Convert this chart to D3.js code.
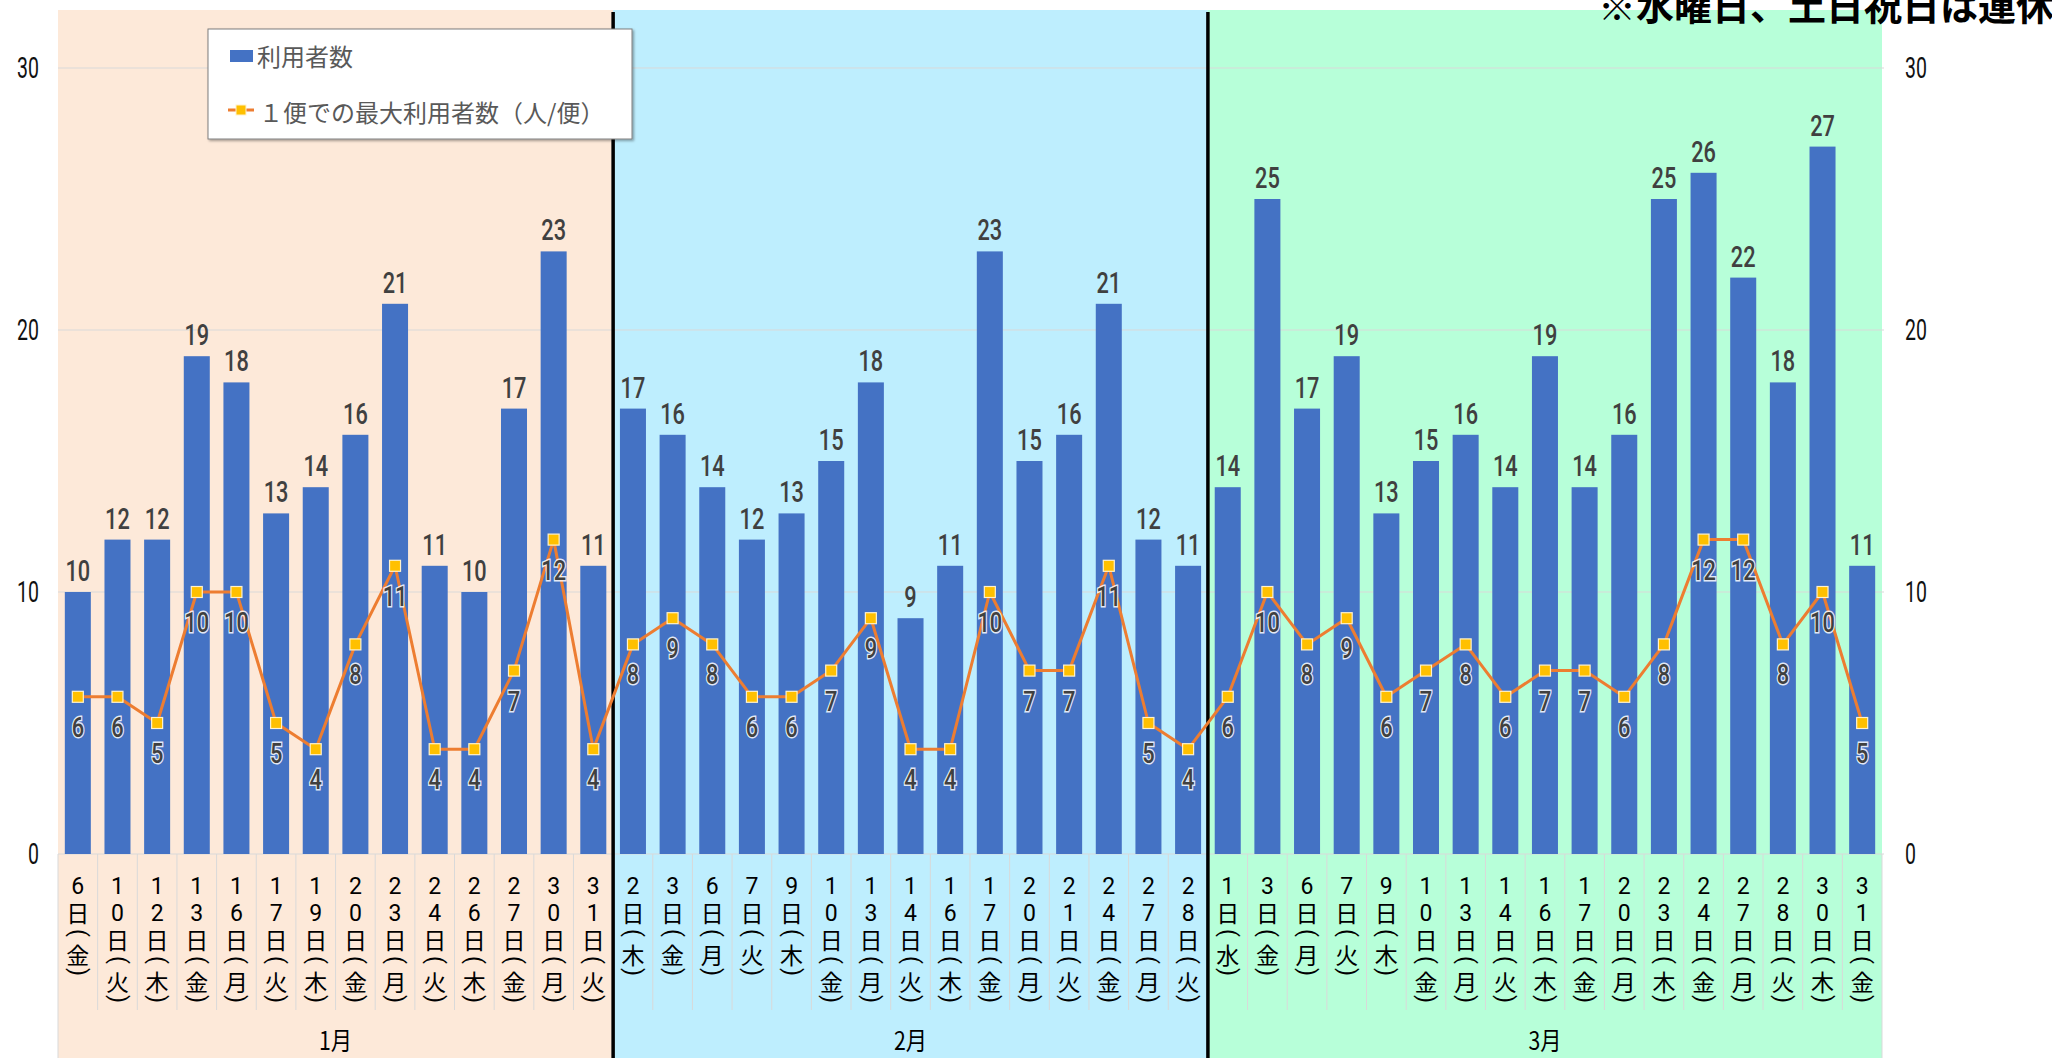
<!DOCTYPE html>
<html><head><meta charset="utf-8">
<script src="https://cdn.jsdelivr.net/npm/d3@7"></script>
<style>body{margin:0;background:#fff;} svg{display:block;}</style>
</head><body>
<svg id="chart" width="2052" height="1058"></svg>
<script>
const monthLabels = ["1月","2月","3月"];
const janDates = ["6日(金)","10日(火)","12日(木)","13日(金)","16日(月)","17日(火)","19日(木)","20日(金)","23日(月)","24日(火)","26日(木)","27日(金)","30日(月)","31日(火)"];
const febDates = ["2日(木)","3日(金)","6日(月)","7日(火)","9日(木)","10日(金)","13日(月)","14日(火)","16日(木)","17日(金)","20日(月)","21日(火)","24日(金)","27日(月)","28日(火)"];
const marDates = ["1日(水)","3日(金)","6日(月)","7日(火)","9日(木)","10日(金)","13日(月)","14日(火)","16日(木)","17日(金)","20日(月)","23日(木)","24日(金)","27日(月)","28日(火)","30日(木)","31日(金)"];
const janUsers = [10,12,12,19,18,13,14,16,21,11,10,17,23,11];
const febUsers = [17,16,14,12,13,15,18,9,11,23,15,16,21,12,11];
const marUsers = [14,25,17,19,13,15,16,14,19,14,16,25,26,22,18,27,11];
const janMaxPerTrip = [6,6,5,10,10,5,4,8,11,4,4,7,12,4];
const febMaxPerTrip = [8,9,8,6,6,7,9,4,4,10,7,7,11,5,4];
const marMaxPerTrip = [6,10,8,9,6,7,8,6,7,7,6,8,12,12,8,10,5];
const yTicks = [0,10,20,30];
const seriesNames = ["利用者数","１便での最大利用者数（人/便）"];
const noteText = "※水曜日、土日祝日は運休";

const monthColors = ["#FDE9D9","#BEEEFE","#B7FFD9"];
const groups = [
  {label: monthLabels[0], dates: janDates, users: janUsers, maxes: janMaxPerTrip},
  {label: monthLabels[1], dates: febDates, users: febUsers, maxes: febMaxPerTrip},
  {label: monthLabels[2], dates: marDates, users: marUsers, maxes: marMaxPerTrip}
];
const data = [];
const monthRanges = [];
groups.forEach((g, gi) => {
  const start = data.length;
  g.dates.forEach((d, i) => data.push({idx: data.length, date: d, month: gi, users: g.users[i], max: g.maxes[i]}));
  monthRanges.push({label: g.label, start, end: data.length - 1, color: monthColors[gi]});
});

const svg = d3.select("#chart");
const L = 58, R = 1882, Y0 = 854, Y30 = 68, TOP = 10, BOTTOM = 1058;
const CJK = "'Noto Sans CJK JP', 'Noto Sans CJK SC', sans-serif";
const NUM = "Roboto, 'Noto Sans', sans-serif";

const xc = d3.scaleBand().domain(d3.range(data.length)).range([L, R]).padding(0);
const x = d3.scaleBand().domain(d3.range(data.length)).range([L, R]).paddingInner(0.344).paddingOuter(0.172);
const y = d3.scaleLinear().domain([0, 30]).range([Y0, Y30]);
const cx = i => x(i) + x.bandwidth() / 2;

// backgrounds
svg.append("g").selectAll("rect").data(monthRanges).join("rect")
  .attr("x", d => xc(d.start)).attr("y", TOP)
  .attr("width", d => xc(d.end) + xc.step() - xc(d.start))
  .attr("height", BOTTOM - TOP)
  .attr("fill", d => d.color);

// gridlines
svg.append("g").selectAll("line").data(yTicks).join("line")
  .attr("x1", L).attr("x2", R + 2)
  .attr("y1", d => y(d)).attr("y2", d => y(d))
  .attr("stroke", "#d9d9d9").attr("stroke-width", 1);

// category cell lines
svg.append("g").selectAll("line").data(d3.range(data.length + 1)).join("line")
  .attr("x1", i => i === data.length ? R : xc(i)).attr("x2", i => i === data.length ? R : xc(i))
  .attr("y1", Y0)
  .attr("y2", i => (i === 0 || i === data.length) ? BOTTOM : 1010)
  .attr("stroke", "#d9d9d9").attr("stroke-width", 1);

// month separators
svg.append("g").selectAll("line").data(monthRanges.slice(1)).join("line")
  .attr("x1", d => xc(d.start)).attr("x2", d => xc(d.start))
  .attr("y1", 12).attr("y2", BOTTOM)
  .attr("stroke", "#000").attr("stroke-width", 3.5);

// bars
svg.append("g").selectAll("rect").data(data).join("rect")
  .attr("x", d => x(d.idx)).attr("width", x.bandwidth())
  .attr("y", d => y(d.users)).attr("height", d => Y0 - y(d.users))
  .attr("fill", "#4472C4");

// bar labels
svg.append("g").selectAll("text").data(data).join("text")
  .attr("transform", d => `translate(${cx(d.idx)},${y(d.users) - 11}) scale(0.75,1)`)
  .attr("text-anchor", "middle")
  .attr("font-family", NUM).attr("font-size", 29).attr("font-weight", 500)
  .attr("fill", "#404040")
  .text(d => d.users);

// line
const line = d3.line().x(d => cx(d.idx)).y(d => y(d.max));
svg.append("path").datum(data).attr("d", line)
  .attr("fill", "none").attr("stroke", "#ED7D31").attr("stroke-width", 3).attr("stroke-linejoin", "round");
svg.append("g").selectAll("rect").data(data).join("rect")
  .attr("x", d => cx(d.idx) - 5.5).attr("y", d => y(d.max) - 5.5)
  .attr("width", 11).attr("height", 11)
  .attr("fill", "#FFC000").attr("stroke", "#FFF2CC").attr("stroke-width", 1.2);
svg.append("g").selectAll("text").data(data).join("text")
  .attr("transform", d => `translate(${cx(d.idx)},${y(d.max) + 40}) scale(0.78,1)`)
  .attr("text-anchor", "middle")
  .attr("font-family", NUM).attr("font-size", 28).attr("font-weight", 500)
  .attr("fill", "#404040").attr("stroke", "#ffffff").attr("stroke-width", 3)
  .attr("stroke-opacity", 0.85).attr("paint-order", "stroke")
  .text(d => d.max);

// axes
const leftAxis = svg.append("g").attr("transform", `translate(${L},0)`)
  .call(d3.axisLeft(y).tickValues(yTicks).tickSize(0).tickPadding(19));
const rightAxis = svg.append("g").attr("transform", `translate(${R},0)`)
  .call(d3.axisRight(y).tickValues(yTicks).tickSize(0).tickPadding(23));
[leftAxis, rightAxis].forEach((ax, k) => {
  ax.select(".domain").remove();
  ax.selectAll("text")
    .attr("font-family", NUM).attr("font-size", 30).attr("fill", "#111")
    .attr("transform", "scale(0.65,1)")
    .attr("x", (k === 0 ? -19 : 23) / 0.65)
    .attr("dy", "0.33em");
});

// date labels: one text per label, characters stacked vertically via x/y lists
const FS = 23;
const dateG = svg.append("g");
data.forEach(d => {
  const m = d.date.match(/^(\d+)(日)\((.)\)$/);
  const xcx = xc(d.idx) + xc.step() / 2;
  const xs = [], ys = [], rs = [];
  let c = 886;
  for (const ch of m[1]) { xs.push(xcx); ys.push(c + 0.355 * FS); rs.push(0); c += 27; }
  xs.push(xcx); ys.push(c + 0.38 * FS); rs.push(0); c += 20;          // 日
  xs.push(xcx - 0.13 * FS); ys.push(c - 0.18 * FS); rs.push(90); c += 22; // (
  xs.push(xcx); ys.push(c + 0.38 * FS); rs.push(0); c += 17;          // weekday
  xs.push(xcx - 0.13 * FS); ys.push(c - 0.18 * FS); rs.push(90);          // )
  dateG.append("text")
    .attr("font-family", "Roboto, 'Noto Sans CJK JP', sans-serif")
    .attr("font-size", FS).attr("fill", "#000").attr("text-anchor", "middle")
    .attr("x", xs.map(v => v.toFixed(1)).join(" "))
    .attr("y", ys.map(v => v.toFixed(1)).join(" "))
    .attr("rotate", rs.join(" "))
    .text(d.date);
});

// month labels
svg.append("g").selectAll("text").data(monthRanges).join("text")
  .attr("transform", d => `translate(${(xc(d.start) + xc(d.end) + xc.step()) / 2},1050) scale(0.85,1)`)
  .attr("text-anchor", "middle")
  .attr("font-family", CJK).attr("font-size", 25).attr("fill", "#000")
  .text(d => d.label);

// legend
const lg = svg.append("g");
const defs = svg.append("defs");
const f = defs.append("filter").attr("id", "sh").attr("x", "-10%").attr("y", "-10%").attr("width", "130%").attr("height", "140%");
f.append("feDropShadow").attr("dx", 1.5).attr("dy", 1.5).attr("stdDeviation", 1.2).attr("flood-color", "#000").attr("flood-opacity", 0.35);
lg.append("rect").attr("x", 208).attr("y", 29).attr("width", 424).attr("height", 110)
  .attr("fill", "#fff").attr("stroke", "#7f7f7f").attr("stroke-width", 1).attr("filter", "url(#sh)");
lg.append("rect").attr("x", 230).attr("y", 50).attr("width", 23).attr("height", 12).attr("fill", "#4472C4");
lg.append("text").attr("x", 257).attr("y", 65.5).attr("font-family", CJK).attr("font-size", 24)
  .attr("fill", "#595959").text(seriesNames[0]);
lg.append("line").attr("x1", 228).attr("x2", 254).attr("y1", 110).attr("y2", 110)
  .attr("stroke", "#ED7D31").attr("stroke-width", 3);
lg.append("rect").attr("x", 236).attr("y", 105).attr("width", 10).attr("height", 10)
  .attr("fill", "#FFC000").attr("stroke", "#FFF2CC").attr("stroke-width", 1);
lg.append("text").attr("x", 259).attr("y", 121.5).attr("font-family", CJK).attr("font-size", 24)
  .attr("fill", "#595959").text(seriesNames[1]);

// note
svg.append("text").attr("x", 1598).attr("y", 20)
  .attr("font-family", CJK).attr("font-size", 38).attr("font-weight", 700).attr("fill", "#000")
  .text(noteText);
</script>
</body></html>
